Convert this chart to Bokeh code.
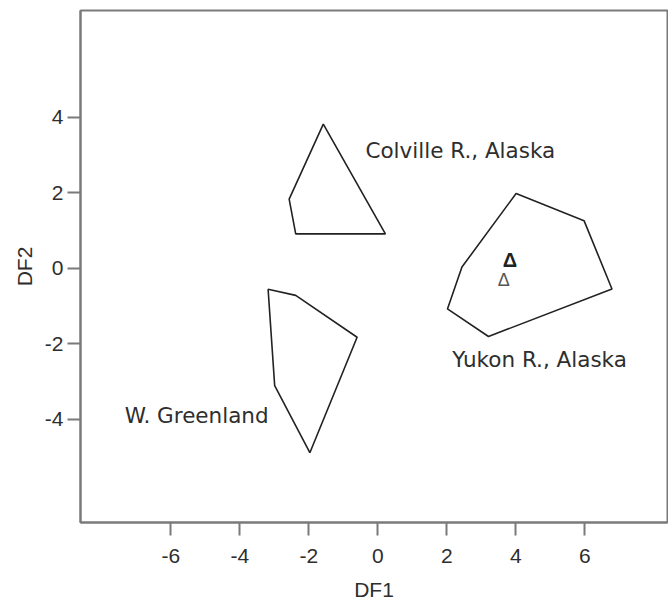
from bokeh.plotting import figure
from bokeh.models import FixedTicker
from bokeh.core.properties import value
from bokeh.embed import file_html
from bokeh.resources import INLINE

# Convex hulls of discriminant scores (DF1, DF2)
colville_x = [-1.58, 0.22, -2.38, -2.57]
colville_y = [3.82, 0.91, 0.91, 1.83]

greenland_x = [-3.18, -2.38, -0.60, -1.97, -2.99]
greenland_y = [-0.56, -0.72, -1.83, -4.89, -3.11]

yukon_x = [4.01, 5.98, 6.79, 3.21, 2.02, 2.44]
yukon_y = [1.98, 1.26, -0.55, -1.81, -1.08, 0.03]

# unknown samples (triangles)
unk_x = [3.83, 3.65]
unk_y = [0.22, -0.31]

group_names = ["Colville R., Alaska", "Yukon R., Alaska", "W. Greenland"]
group_lx = [-0.36, 2.16, -7.34]
group_ly = [3.13, -2.43, -3.91]

x_ticks = [-6, -4, -2, 0, 2, 4, 6]
y_ticks = [-4, -2, 0, 2, 4]

FONT = "Liberation Sans"
AFONT = "DejaVu Sans"
AXC = "#7a7a7a"
TXT = "#2e2e2e"

p = figure(width=668, height=603, x_range=(-8.62, 8.40), y_range=(-6.74, 6.83),
           output_backend="svg", toolbar_location=None,
           min_border_left=80, min_border_right=1, min_border_top=10, min_border_bottom=80)
p.grid.visible = False
p.background_fill_color = "white"
p.border_fill_color = "white"
p.outline_line_color = AXC
p.outline_line_width = 2

for ax, ticks in ((p.xaxis[0], x_ticks), (p.yaxis[0], y_ticks)):
    ax.ticker = FixedTicker(ticks=ticks)
    ax.major_label_overrides = {t: str(t) for t in ticks}
    ax.minor_tick_line_color = None
    ax.major_tick_out = 13
    ax.major_tick_in = 0
    ax.major_tick_line_color = AXC
    ax.major_tick_line_width = 2
    ax.axis_line_color = AXC
    ax.axis_line_width = 2
    ax.major_label_text_font = FONT
    ax.major_label_text_font_size = "21px"
    ax.major_label_text_color = TXT
    ax.axis_label_text_font = FONT
    ax.axis_label_text_font_size = "21px"
    ax.axis_label_text_font_style = "normal"
    ax.axis_label_text_color = TXT

p.xaxis.axis_label = "DF1"
p.yaxis.axis_label = "DF2"
p.xaxis.major_label_standoff = 13
p.yaxis.major_label_standoff = 4
p.xaxis.axis_label_standoff = 12
p.yaxis.axis_label_standoff = 6

for xs, ys in ((colville_x, colville_y), (greenland_x, greenland_y), (yukon_x, yukon_y)):
    p.patch(xs, ys, fill_color=None, line_color="#222222", line_width=1.6)

p.text(x=unk_x[:1], y=unk_y[:1], text=["Δ"], text_font=value(FONT), text_font_size="20px",
       text_font_style="bold", text_color="#222222", text_align="center", text_baseline="middle")
p.text(x=unk_x[1:], y=unk_y[1:], text=["Δ"], text_font=value(FONT), text_font_size="18px",
       text_color="#555555", text_align="center", text_baseline="middle")

p.text(x=group_lx, y=group_ly, text=group_names, text_font=value(AFONT), text_font_size="21.5px",
       text_color=TXT, text_align="left", text_baseline="middle")

open("out.html", "w").write(file_html(p, INLINE))
